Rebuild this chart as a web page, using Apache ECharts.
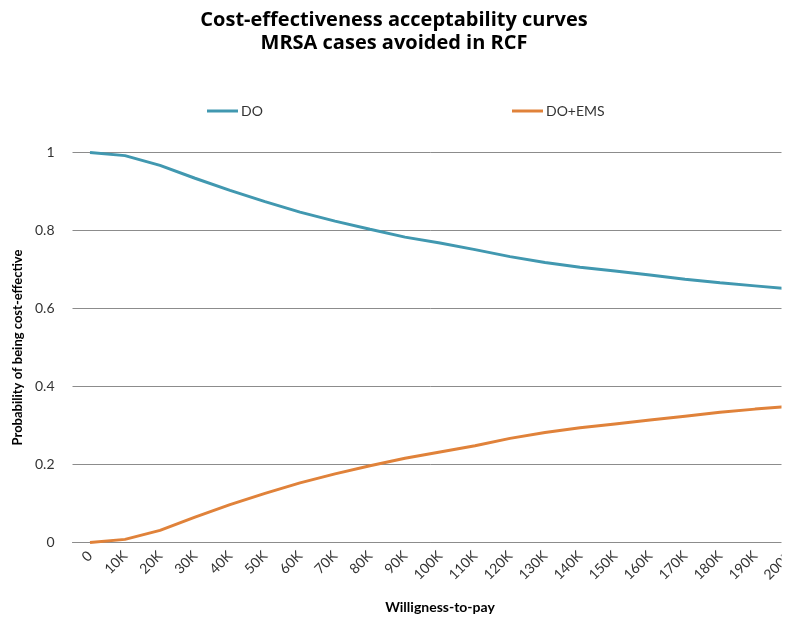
<!DOCTYPE html>
<html>
<head>
<meta charset="utf-8">
<script src="https://cdn.jsdelivr.net/npm/echarts@6/dist/echarts.min.js"></script>
<style>
html,body{margin:0;padding:0;background:#fff;}
#chart{width:788px;height:617px;}
</style>
</head>
<body>
<div id="chart"></div>
<script>
var categories = ['0','10K','20K','30K','40K','50K','60K','70K','80K','90K','100K','110K','120K','130K','140K','150K','160K','170K','180K','190K','200K'];
var doValues = [1.0,0.992,0.967,0.934,0.903,0.874,0.847,0.824,0.803,0.783,0.768,0.751,0.733,0.718,0.706,0.696,0.686,0.675,0.666,0.658,0.650];
var doEmsValues = [0.0,0.008,0.031,0.065,0.097,0.126,0.153,0.176,0.197,0.216,0.232,0.248,0.267,0.282,0.294,0.304,0.314,0.324,0.334,0.342,0.349];
var yTicks = [0, 0.2, 0.4, 0.6, 0.8, 1];

var FONT = 'Lato, "Open Sans", sans-serif';
var TITLE_FONT = '"Open Sans", Lato, sans-serif';
var chart = echarts.init(document.getElementById('chart'), null, {renderer:'canvas'});
chart.setOption({
  backgroundColor:'#ffffff',
  animation:false,
  title:{
    text:'Cost-effectiveness acceptability curves\nMRSA cases avoided in RCF',
    left:'center', top:4, padding:[5,0,5,10],
    textStyle:{fontFamily:TITLE_FONT, fontSize:20, fontWeight:'bold', color:'#000', lineHeight:23}
  },
  legend:[
    {data:['DO'], left:207, top:104, padding:0, icon:'rect', itemWidth:31, itemHeight:3, itemGap:4,
     textStyle:{fontFamily:FONT, fontSize:14, color:'#333', padding:[0,0,0,-2]}},
    {data:['DO+EMS'], left:512, top:104, padding:0, icon:'rect', itemWidth:31, itemHeight:3, itemGap:4,
     textStyle:{fontFamily:FONT, fontSize:14, color:'#333', padding:[0,0,0,-2]}}
  ],
  grid:{left:72.5, right:-19.5, top:152.5, bottom:74.5, containLabel:false, outerBoundsMode:'none'},
  xAxis:{
    type:'category', data:categories, boundaryGap:true,
    name:'Willigness-to-pay', nameLocation:'middle', nameGap:58,
    nameTextStyle:{fontFamily:FONT, fontSize:14, fontWeight:'bold', color:'#000'},
    axisLine:{show:true, lineStyle:{color:'#8c8c8c', width:1}},
    axisTick:{show:false},
    axisLabel:{rotate:45, interval:0, margin:11, fontFamily:FONT, fontSize:14, color:'#333'}
  },
  yAxis:{
    type:'value', min:0, max:1, interval:0.2,
    name:'Probability of being cost-effective', nameLocation:'middle', nameGap:44,
    nameTextStyle:{fontFamily:FONT, fontSize:13, fontWeight:'bold', color:'#000'},
    axisLine:{show:false}, axisTick:{show:false},
    axisLabel:{margin:18, fontFamily:FONT, fontSize:14, color:'#333',
      formatter:function(v){ var t = yTicks.filter(function(x){return Math.abs(x-v)<1e-9;}); return t.length? String(t[0]) : ''; }},
    splitLine:{show:true, lineStyle:{color:'#8c8c8c', width:1}}
  },
  graphic:[
    {type:'rect', right:0, bottom:0, z:100, shape:{width:6.5, height:477}, style:{fill:'#ffffff'}}
  ],
  series:[
    {name:'DO', type:'line', data:doValues, showSymbol:false, symbol:'none', smooth:false,
     lineStyle:{color:'#4198b0', width:3}, itemStyle:{color:'#4198b0'}},
    {name:'DO+EMS', type:'line', data:doEmsValues, showSymbol:false, symbol:'none', smooth:false,
     lineStyle:{color:'#e0823a', width:3}, itemStyle:{color:'#e0823a'}}
  ]
});
</script>
</body>
</html>
